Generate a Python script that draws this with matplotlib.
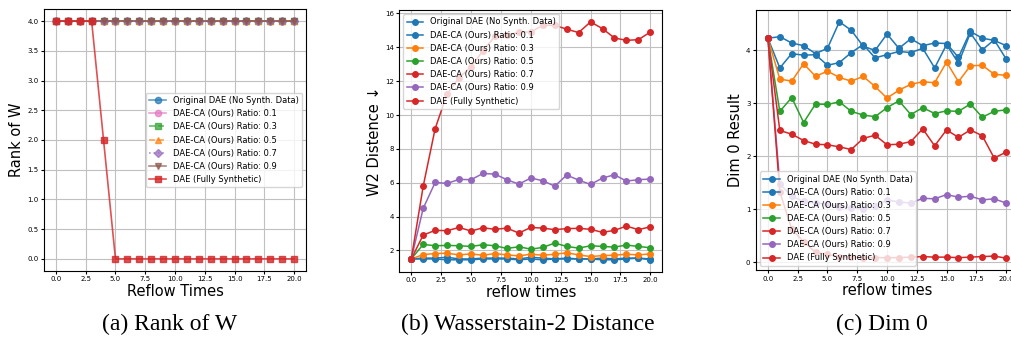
import numpy as np
import matplotlib
matplotlib.use('Agg')
import matplotlib.pyplot as plt

steps = np.arange(21)

labels = ['Original DAE (No Synth. Data)', 'DAE-CA (Ours) Ratio: 0.1', 'DAE-CA (Ours) Ratio: 0.3',
          'DAE-CA (Ours) Ratio: 0.5', 'DAE-CA (Ours) Ratio: 0.7', 'DAE-CA (Ours) Ratio: 0.9',
          'DAE (Fully Synthetic)']

# (a) rank of W
rank_ca = [4.0] * 21
rank_full = [4, 4, 4, 4, 2, 0, 0, 0, 0, 0, 0, 0, 0, 0, 0, 0, 0, 0, 0, 0, 0]

# (b) W2 distance
w2_orig = [1.5, 1.5, 1.5, 1.45, 1.45, 1.45, 1.5, 1.5, 1.5, 1.45, 1.5, 1.45, 1.5, 1.5, 1.5, 1.5, 1.45, 1.45, 1.5, 1.55, 1.45]
w2_r01 = [1.5, 1.55, 1.55, 1.6, 1.5, 1.5, 1.55, 1.55, 1.55, 1.5, 1.6, 1.55, 1.5, 1.55, 1.5, 1.5, 1.55, 1.5, 1.55, 1.55, 1.5]
w2_r03 = [1.5, 1.76, 1.82, 1.84, 1.74, 1.8, 1.72, 1.82, 1.74, 1.68, 1.78, 1.72, 1.78, 1.86, 1.74, 1.64, 1.7, 1.72, 1.78, 1.74, 1.8]
w2_r05 = [1.5, 2.36, 2.28, 2.3, 2.28, 2.24, 2.34, 2.28, 2.12, 2.22, 2.08, 2.18, 2.44, 2.24, 2.14, 2.28, 2.24, 2.2, 2.32, 2.24, 2.16]
w2_r07 = [1.5, 2.91, 3.19, 3.17, 3.36, 3.15, 3.34, 3.25, 3.32, 3.03, 3.36, 3.32, 3.23, 3.29, 3.31, 3.25, 3.07, 3.19, 3.44, 3.23, 3.4]
w2_r09 = [1.5, 4.49, 6.02, 5.96, 6.2, 6.18, 6.55, 6.51, 6.18, 5.92, 6.28, 6.12, 5.8, 6.45, 6.16, 5.9, 6.28, 6.47, 6.1, 6.18, 6.22]
w2_full = [1.5, 5.8, 9.2, 11.25, 12.2, 12.85, 13.8, 14.65, 14.7, 14.9, 14.9, 15.3, 15.3, 15.07, 14.87, 15.5, 15.1, 14.55, 14.41, 14.45, 14.9]

# (c) dim 0
d0_orig = [4.23, 3.67, 3.94, 3.91, 3.92, 3.72, 3.77, 3.96, 4.11, 3.86, 3.92, 3.98, 3.96, 4.04, 3.67, 4.11, 3.76, 4.33, 4.01, 4.2, 3.84]
d0_r01 = [4.23, 4.26, 4.14, 4.09, 3.94, 4.04, 4.54, 4.38, 4.08, 4.0, 4.31, 4.04, 4.22, 4.09, 4.14, 4.13, 3.87, 4.36, 4.23, 4.19, 4.09]
d0_r03 = [4.23, 3.46, 3.42, 3.75, 3.51, 3.61, 3.49, 3.42, 3.51, 3.32, 3.1, 3.25, 3.36, 3.41, 3.39, 3.78, 3.41, 3.71, 3.72, 3.55, 3.53]
d0_r05 = [4.23, 2.85, 3.11, 2.64, 2.99, 2.98, 3.03, 2.85, 2.78, 2.75, 2.92, 3.05, 2.79, 2.92, 2.81, 2.86, 2.85, 2.99, 2.74, 2.85, 2.88]
d0_r07 = [4.23, 2.49, 2.42, 2.3, 2.23, 2.22, 2.18, 2.13, 2.34, 2.4, 2.22, 2.23, 2.28, 2.52, 2.2, 2.5, 2.36, 2.5, 2.39, 1.97, 2.08]
d0_r09 = [4.23, 1.48, 1.25, 1.15, 1.12, 1.1, 1.05, 1.03, 1.01, 1.06, 1.18, 1.14, 1.12, 1.21, 1.2, 1.28, 1.23, 1.25, 1.18, 1.2, 1.12]
d0_full = [4.23, 1.33, 0.63, 0.39, 0.19, 0.15, 0.11, 0.1, 0.09, 0.09, 0.09, 0.09, 0.1, 0.11, 0.1, 0.1, 0.09, 0.1, 0.11, 0.12, 0.08]

fig = plt.figure(figsize=(10.12, 3.45), dpi=100)
W, H = 1012, 345

def add_ax(l, r, t, b):
    return fig.add_axes([l / W, 1 - b / H, (r - l) / W, (b - t) / H])

ax1 = add_ax(44, 306, 9.3, 270.7)
ax2 = add_ax(399.3, 662.3, 10, 271.7)
ax3 = add_ax(756, 1018, 10, 270)

# panel a
styles_a = [('#1f77b4', 'o', '-'), ('#e377c2', 'o', '-'), ('#2ca02c', 's', '--'),
            ('#ff7f0e', '^', '--'), ('#9467bd', 'D', ':'), ('#8c564b', 'v', '-')]
for (c, m, ls), lab in zip(styles_a, labels[:6]):
    ax1.plot(steps, rank_ca, color=c, marker=m, ls=ls, lw=1.2, ms=4.5, alpha=0.7, label=lab)
ax1.plot(steps, rank_full, color='#d62728', marker='s', ls='-', lw=1.2, ms=4.5, alpha=0.8, label=labels[6])
ax1.set_yticks(np.arange(0, 4.01, 0.5))
ax1.set_ylabel('Rank of W', fontsize=10.5, labelpad=2)
ax1.set_xlabel('Reflow Times', fontsize=10.5, labelpad=1)
ax1.legend(loc='center right', fontsize=6)

# panel b
cols = ['#1f77b4', '#1f77b4', '#ff7f0e', '#2ca02c', '#d62728', '#9467bd', '#d62728']
for ys, c, lab in zip([w2_orig, w2_r01, w2_r03, w2_r05, w2_r07, w2_r09, w2_full], cols, labels):
    ax2.plot(steps, ys, color=c, marker='o', lw=1.1, ms=4, label=lab)
ax2.set_ylabel('W2 Distence \u2193', fontsize=10.5, labelpad=2)
ax2.set_xlabel('reflow times', fontsize=10.5, labelpad=1)
ax2.legend(loc='upper left', fontsize=6)

# panel c
for ys, c, lab in zip([d0_orig, d0_r01, d0_r03, d0_r05, d0_r07, d0_r09, d0_full], cols, labels):
    ax3.plot(steps, ys, color=c, marker='o', lw=1.1, ms=4, label=lab)
ax3.set_yticks([0, 1, 2, 3, 4])
ax3.set_ylabel('Dim 0 Result', fontsize=10.5, labelpad=2)
ax3.set_xlabel('reflow times', fontsize=10.5, labelpad=1)
ax3.legend(loc='lower left', fontsize=6)

for ax in (ax1, ax2, ax3):
    ax.set_xticks(np.arange(0, 20.1, 2.5))
    ax.tick_params(labelsize=5, length=2, pad=2)
    ax.grid(True, color='#c0c0c0', lw=0.8)

captions = ['(a) Rank of W', '(b) Wasserstain-2 Distance', '(c) Dim 0']
cap_x = [170, 528, 882]
for cx, cap in zip(cap_x, captions):
    fig.text(cx / W, 15 / H, cap, ha='center', va='baseline', family='Liberation Serif', fontsize=17)

fig.savefig('out.png', dpi=100)
